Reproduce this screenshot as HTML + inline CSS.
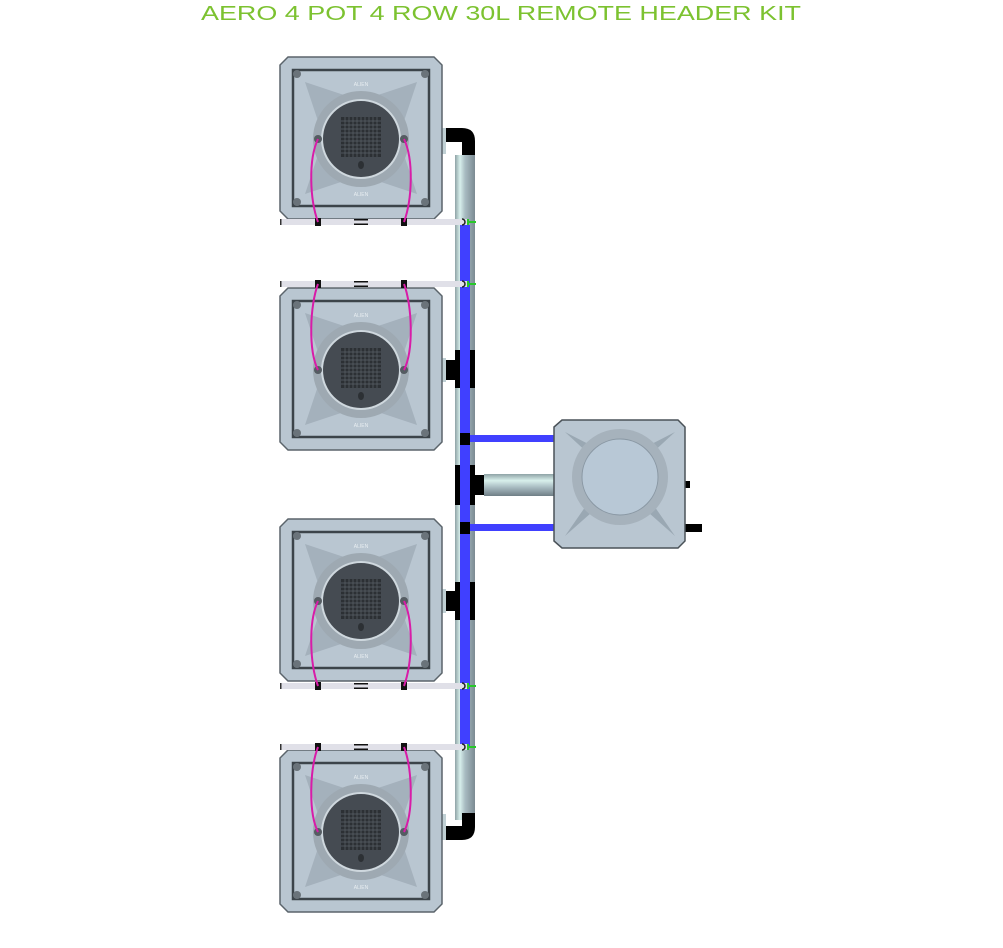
<!DOCTYPE html>
<html><head><meta charset="utf-8"><style>
html,body{margin:0;padding:0;background:#fff;}
svg{display:block}
</style></head><body>
<svg width="1003" height="948" viewBox="0 0 1003 948" xmlns="http://www.w3.org/2000/svg">
<defs>
<linearGradient id="pipeV" x1="0" x2="1" y1="0" y2="0">
<stop offset="0" stop-color="#8fa3a6"/><stop offset="0.25" stop-color="#d8f0ec"/><stop offset="0.5" stop-color="#a9bcc2"/><stop offset="1" stop-color="#7b8a92"/>
</linearGradient>
<linearGradient id="pipeH" x1="0" x2="0" y1="0" y2="1">
<stop offset="0" stop-color="#8fa3a6"/><stop offset="0.3" stop-color="#d8f0ec"/><stop offset="0.6" stop-color="#a9bcc2"/><stop offset="1" stop-color="#6f7e86"/>
</linearGradient>
<g id="pot">
<path d="M8,0 H154 L162,8 V154 L154,162 H8 L0,154 V8 Z" fill="#b9c6d1" stroke="#5b646b" stroke-width="1.5"/>
<rect x="13" y="13" width="136" height="136" fill="none" stroke="#3c444a" stroke-width="2.5"/>
<path d="M25,25 L70,40 L81,81 L40,70Z M137,25 L92,40 L81,81 L122,70Z M25,137 L70,122 L81,81 L40,92Z M137,137 L92,122 L81,81 L122,92Z" fill="#a4b1bc"/>
<circle cx="81" cy="82" r="48" fill="#9ea9b2"/>
<circle cx="81" cy="82" r="40" fill="#cfd8de"/>
<circle cx="81" cy="82" r="38" fill="#454b52"/>
<rect x="61" y="60" width="40" height="40" fill="#2c3034"/>
<path d="M61,64H101M61,68H101M61,72H101M61,76H101M61,80H101M61,84H101M61,88H101M61,92H101M61,96H101M65,60V100M69,60V100M73,60V100M77,60V100M81,60V100M85,60V100M89,60V100M93,60V100M97,60V100" stroke="#5a6168" stroke-width="0.7"/>
<ellipse cx="81" cy="108" rx="3" ry="4" fill="#2c3034"/>
<circle cx="38" cy="82" r="4" fill="#555c62"/><circle cx="124" cy="82" r="4" fill="#555c62"/>
<circle cx="17" cy="17" r="4" fill="#6a737a"/><circle cx="145" cy="17" r="4" fill="#6a737a"/>
<circle cx="17" cy="145" r="4" fill="#6a737a"/><circle cx="145" cy="145" r="4" fill="#6a737a"/>
<text x="81" y="29" font-size="5" text-anchor="middle" fill="#e8eef2" font-family="Liberation Sans, sans-serif">ALIEN</text>
<text x="81" y="139" font-size="5" text-anchor="middle" fill="#e8eef2" font-family="Liberation Sans, sans-serif">ALIEN</text>
</g>
<g id="bar">
<rect x="280" y="-3" width="188" height="6" fill="#e0e0e8"/>
<rect x="280" y="-3" width="1.5" height="6" fill="#333"/>
<rect x="315" y="-4" width="6" height="8" fill="#111"/>
<rect x="401" y="-4" width="6" height="8" fill="#111"/>
<rect x="354" y="-3" width="14" height="1.5" fill="#111"/><rect x="354" y="1.5" width="14" height="1.5" fill="#111"/>
<path d="M462,-3 a3,3 0 0 1 0,6" fill="none" stroke="#222" stroke-width="1.5"/>
<path d="M468,-3 V3 M468,0 H476" stroke="#28c828" stroke-width="2"/>
</g>
</defs>

<text x="201" y="20" font-size="20" fill="#7cc230" font-family="Liberation Sans, sans-serif" textLength="600" lengthAdjust="spacingAndGlyphs">AERO 4 POT 4 ROW 30L REMOTE HEADER KIT</text>

<rect x="455" y="155" width="20" height="665" fill="url(#pipeV)"/>
<rect x="460" y="225" width="10" height="522" fill="#4040ff"/>
<rect x="455" y="350" width="20" height="38" fill="#000"/><rect x="460" y="350" width="10" height="38" fill="#4040ff"/>
<rect x="455" y="465" width="20" height="40" fill="#000"/><rect x="460" y="465" width="10" height="40" fill="#4040ff"/>
<rect x="455" y="582" width="20" height="38" fill="#000"/><rect x="460" y="582" width="10" height="38" fill="#4040ff"/>
<path d="M442,128 H462 Q475,128 475,141 V155 H462 V142 H442 Z" fill="#000"/>
<path d="M442,840 H462 Q475,840 475,827 V813 H462 V826 H442 Z" fill="#000"/>
<rect x="440" y="128" width="6" height="26" fill="#c0d0d4"/>
<rect x="440" y="814" width="6" height="26" fill="#c0d0d4"/>
<rect x="440" y="358" width="6" height="24" fill="#c0d0d4"/><rect x="446" y="360" width="10" height="20" fill="#000"/>
<rect x="440" y="589" width="6" height="24" fill="#c0d0d4"/><rect x="446" y="591" width="10" height="20" fill="#000"/>

<use href="#pot" x="280" y="57"/>
<use href="#pot" x="280" y="288"/>
<use href="#pot" x="280" y="519"/>
<use href="#pot" x="280" y="750"/>

<use href="#bar" x="0" y="222"/>
<use href="#bar" x="0" y="284"/>
<use href="#bar" x="0" y="686"/>
<use href="#bar" x="0" y="747"/>

<g fill="none" stroke="#d81ca8" stroke-width="2">
<path d="M318,139 C308,160 310,200 318,222"/><path d="M404,139 C414,160 412,200 404,222"/>
<path d="M318,370 C308,350 310,305 318,284"/><path d="M404,370 C414,350 412,305 404,284"/>
<path d="M318,601 C308,622 310,664 318,686"/><path d="M404,601 C414,622 412,664 404,686"/>
<path d="M318,832 C308,812 310,768 318,747"/><path d="M404,832 C414,812 412,768 404,747"/>
</g>

<rect x="470" y="435" width="84" height="7" fill="#4040ff"/>
<rect x="470" y="524" width="84" height="7" fill="#4040ff"/>
<rect x="460" y="433" width="10" height="12" fill="#000"/>
<rect x="460" y="522" width="10" height="12" fill="#000"/>
<rect x="484" y="474" width="70" height="22" fill="url(#pipeH)"/>
<rect x="470" y="475" width="14" height="20" fill="#000"/>
<rect x="685" y="481" width="5" height="7" fill="#000"/>
<rect x="685" y="524" width="17" height="8" fill="#000"/>
<path d="M562,420 H678 L685,427 V541 L678,548 H562 L554,541 V427 Z" fill="#b9c6d1" stroke="#4a5258" stroke-width="1.5"/>
<path d="M565,432 L600,450 L620,477 L590,455Z M675,432 L640,450 L620,477 L650,455Z M565,536 L600,505 L620,477 L590,500Z M675,536 L640,505 L620,477 L650,500Z" fill="#9aa8b3"/>
<circle cx="620" cy="477" r="48" fill="#a6b2bc"/>
<circle cx="620" cy="477" r="38" fill="#b8c8d6" stroke="#8a98a4" stroke-width="1"/>
</svg>
</body></html>
